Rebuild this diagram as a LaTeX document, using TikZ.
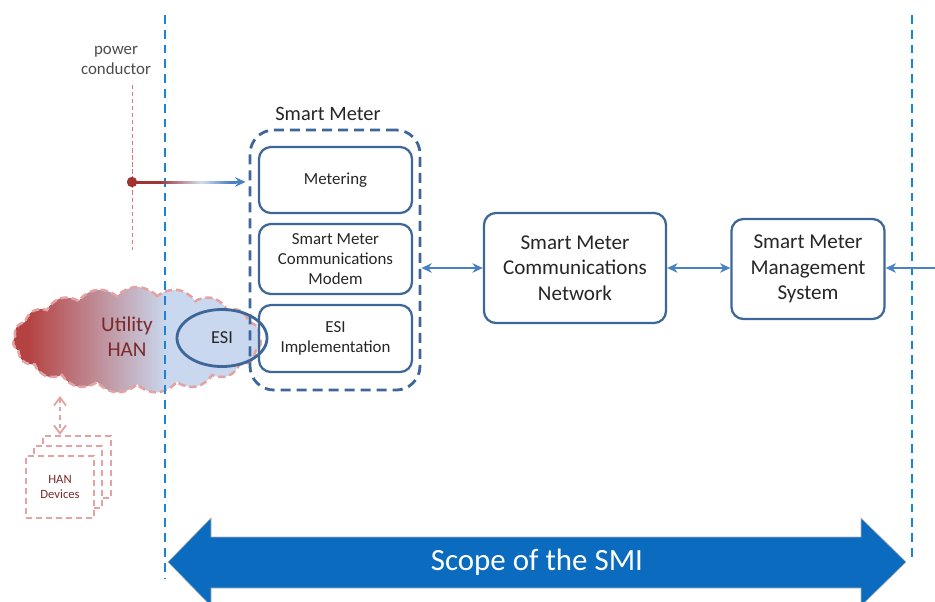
\documentclass[tikz,border=0pt]{standalone}
\usepackage{fontspec}
\setmainfont{Carlito}
\usetikzlibrary{arrows.meta,shapes.geometric,shapes.symbols,calc}

\definecolor{boxblue}{HTML}{3D6699}
\definecolor{linkblue}{HTML}{4A80C4}
\definecolor{scopeline}{HTML}{1A85D4}
\definecolor{scopefill}{HTML}{0B6BBE}
\definecolor{hanred}{HTML}{B54242}
\definecolor{hanblue}{HTML}{C9D8EE}
\definecolor{hanline}{HTML}{E4A2A2}
\definecolor{hantext}{HTML}{7A2A2A}
\definecolor{pcred}{HTML}{A23333}
\definecolor{pcline}{HTML}{E07878}
\definecolor{feedlight}{HTML}{D3DEF0}
\definecolor{txtgray}{HTML}{262626}

\pgfdeclarehorizontalshading{hanshade}{100bp}{color(0bp)=(hanred); color(28bp)=(hanred); color(56bp)=(hanblue); color(100bp)=(hanblue)}
\pgfdeclarehorizontalshading{feedshade}{100bp}{color(0bp)=(pcred); color(38bp)=(pcred); color(58bp)=(feedlight); color(72bp)=(linkblue); color(100bp)=(linkblue)}

\begin{document}
\begin{tikzpicture}[
x=0.025cm, y=-0.025cm,
every node/.style={text=txtgray, align=center},
part/.style={draw=boxblue, line width=1.6pt, rounded corners=0.3cm,
  minimum width=3.825cm, font=\fontsize{12}{14.5}\selectfont},
block/.style={draw=boxblue, line width=1.6pt, rounded corners=0.3cm,
  font=\fontsize{15}{18}\selectfont},
device/.style={draw=hanline, fill=white, line width=1.6pt,
  dash pattern=on 0.16cm off 0.09cm, minimum width=1.7cm, minimum height=1.55cm},
link/.style={linkblue, line width=1pt, >={Stealth[length=2.6mm,width=2.4mm]}},
scopeedge/.style={scopeline, line width=1.2pt, dash pattern=on 0.22cm off 0.15cm}
]
\useasboundingbox (0,0) rectangle (935,601);

% home area network
\node[cloud, cloud puffs=19, cloud puff arc=100, aspect=2.3, shade, shading=hanshade,
  draw=hanline, line width=1.8pt, dash pattern=on 0.18cm off 0.1cm,
  minimum width=6.2cm, minimum height=2.65cm] (han) at (137,340) {};
\node[text=hantext, font=\fontsize{15}{18}\selectfont] (uhan) at (127,337) {Utility\\HAN};

\node[device] (dev3) at (77,467) {};
\node[device] (dev2) at (68,477) {};
\node[device, text=hantext, font=\fontsize{9}{11}\selectfont] (dev1) at (60,487) {HAN\\Devices};

\coordinate (hanfoot) at (60,396);
\draw[hanline, line width=1.3pt, dashed, <->, >={Straight Barb[length=2mm,width=3mm]}]
  (hanfoot) -- (dev3.north -| hanfoot);

% scope limits
\draw[scopeedge] (165,15) -- (165,578);
\draw[scopeedge] (912,15) -- (912,562);

% power conductor
\node[font=\fontsize{12}{14.2}\selectfont, text=black!70] (pc) at (116,60) {power\\conductor};
\draw[pcline, line width=0.7pt, densely dashed] (132,85) -- (132,250);
\node[circle, fill=pcred, inner sep=0pt, minimum size=0.26cm] (dot) at (132,182) {};

% smart meter
\node[draw=boxblue, line width=2pt, dash pattern=on 0.25cm off 0.15cm,
  rounded corners=0.6cm, minimum width=4.25cm, minimum height=6.5cm] (sm) at (335,260) {};
\node[font=\fontsize{14.5}{17}\selectfont] (smtitle) at (328,114) {Smart Meter};

\node[part, minimum height=1.65cm] (metering) at (335.5,180) {Metering};
\node[part, minimum height=1.75cm] (modem) at (335.5,259) {Smart Meter\\Communications\\Modem};
\node[part, minimum height=1.675cm] (esiimpl) at (335.5,338.5) {ESI\\Implementation};

\node[ellipse, draw=boxblue, line width=2pt, minimum width=2.25cm, minimum height=1.425cm,
  font=\fontsize{13}{15}\selectfont] (esi) at (222,338) {ESI};

\shade[shading=feedshade] ($(dot.center)+(0,-1)$) rectangle ($(sm.west |- dot)+(-12,1)$);
\draw[link, ->] ($(sm.west |- dot)+(-14,0)$) -- ($(sm.west |- dot)+(-3,0)$);

% back end
\node[block, minimum width=4.55cm, minimum height=2.75cm] (network) at (575,268)
  {Smart Meter\\Communications\\Network};
\node[block, minimum width=3.825cm, minimum height=2.5cm] (mgmt) at (808,269)
  {Smart Meter\\Management\\System};
\coordinate (rin) at (935,268);

\draw[link, <->] (sm.east |- network.west) -- (network.west);
\draw[link, <->] (network.east) -- (mgmt.west |- network.east);
\draw[link, ->] (rin) -- (mgmt.east |- rin);

% scope arrow
\fill[scopefill, draw=black!30, line width=0.4pt] (168,562) -- (211,518) -- (211,537) -- (861,537)
  -- (861,518) -- (906,562) -- (861,606) -- (861,588) -- (211,588) -- (211,606) -- cycle;
\node[text=white, font=\fontsize{22}{26}\selectfont] (scope) at (537,562) {Scope of the SMI};

\end{tikzpicture}
\end{document}
